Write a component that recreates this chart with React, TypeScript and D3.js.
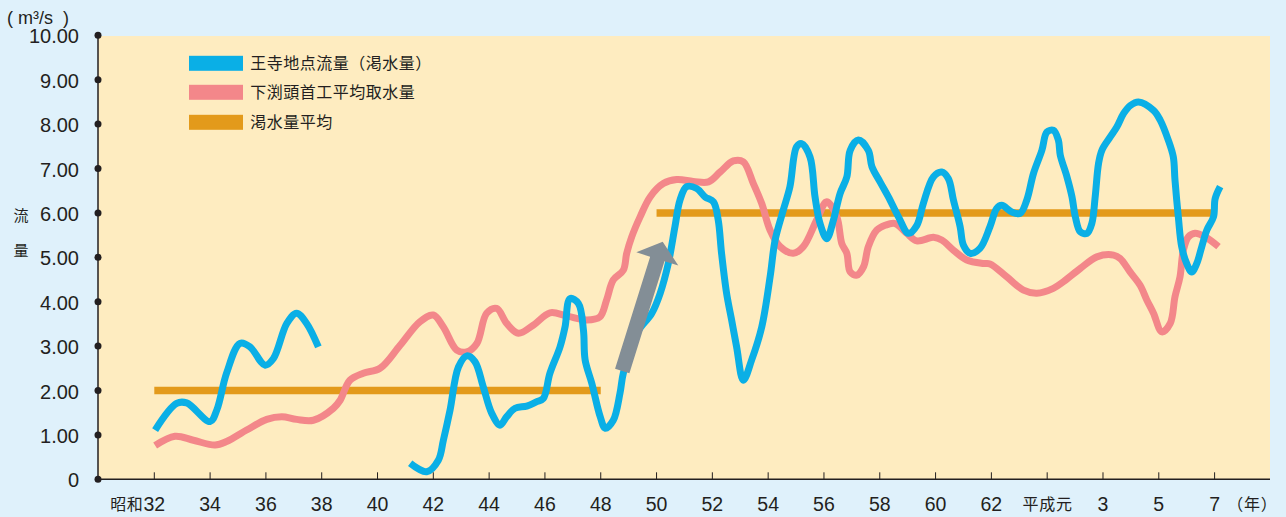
import React from 'react';
import * as d3 from 'd3';

const W = 1286;
const H = 517;

// x positions are Showa years (平成元 = 64)
const xTickYears = [32, 34, 36, 38, 40, 42, 44, 46, 48, 50, 52, 54, 56, 58, 60, 62, 64, 66, 68, 70];
const xTickLabels = ['32', '34', '36', '38', '40', '42', '44', '46', '48', '50', '52', '54', '56', '58', '60', '62', '平成元', '3', '5', '7'];
const yTicks = [0, 1, 2, 3, 4, 5, 6, 7, 8, 9, 10];
const yTickLabels = ['0', '1.00', '2.00', '3.00', '4.00', '5.00', '6.00', '7.00', '8.00', '9.00', '10.00'];

const seriesNames = ['王寺地点流量（渇水量）', '下渕頭首工平均取水量', '渇水量平均'];

// 王寺地点流量（渇水量）, segment 1
const blue1Years = [32.03, 32.8, 33.16, 34.0, 34.24, 34.59, 35.07, 35.43, 35.97, 36.27, 36.75, 37.1, 37.46, 37.88];
const blue1Values = [1.11, 1.71, 1.72, 1.3, 1.56, 2.39, 3.06, 2.98, 2.57, 2.72, 3.51, 3.74, 3.51, 2.98];

// 王寺地点流量（渇水量）, segment 2
const blue2Years = [41.17, 41.76, 42.18, 42.36, 42.6, 42.9, 43.2, 43.49, 43.79, 44.09, 44.39, 44.63, 44.93, 45.35, 45.71, 45.94, 46.18, 46.54, 46.72, 46.9, 47.2, 47.38, 47.44, 47.68, 47.98, 48.16, 48.45, 48.69, 48.81, 49.29, 49.83, 50.13, 50.42, 50.66, 50.84, 51.08, 51.44, 51.74, 52.04, 52.21, 52.33, 52.51, 52.69, 52.87, 53.11, 53.41, 53.77, 54.07, 54.25, 54.54, 54.78, 55.02, 55.2, 55.5, 55.68, 55.86, 56.1, 56.34, 56.58, 56.82, 56.94, 57.23, 57.59, 57.72, 58.01, 58.31, 58.67, 59.03, 59.33, 59.56, 59.92, 60.22, 60.46, 60.64, 60.88, 61.0, 61.24, 61.59, 61.95, 62.19, 62.37, 62.73, 63.03, 63.27, 63.51, 63.81, 63.99, 64.22, 64.4, 64.47, 64.71, 64.89, 65.01, 65.19, 65.43, 65.6, 65.72, 65.84, 65.96, 66.26, 66.5, 66.74, 66.98, 67.27, 67.81, 68.05, 68.34, 68.52, 68.58, 68.7, 68.82, 69.0, 69.18, 69.36, 69.54, 69.72, 69.96, 70.02, 70.2];
const blue2Values = [0.36, 0.17, 0.43, 0.88, 1.56, 2.53, 2.78, 2.65, 2.08, 1.49, 1.22, 1.41, 1.6, 1.65, 1.75, 1.82, 2.39, 2.98, 3.43, 4.07, 3.96, 3.36, 2.69, 2.16, 1.41, 1.15, 1.33, 1.94, 2.39, 3.29, 3.74, 4.19, 4.86, 5.69, 6.29, 6.59, 6.55, 6.36, 6.25, 5.84, 5.09, 4.19, 3.59, 2.98, 2.23, 2.69, 3.43, 4.56, 5.39, 6.06, 6.59, 7.49, 7.56, 7.26, 6.36, 5.76, 5.42, 5.84, 6.44, 6.81, 7.41, 7.64, 7.41, 7.04, 6.7, 6.36, 5.91, 5.54, 5.72, 6.21, 6.81, 6.92, 6.77, 6.29, 5.69, 5.27, 5.09, 5.2, 5.69, 6.1, 6.17, 6.02, 5.99, 6.29, 6.89, 7.41, 7.82, 7.86, 7.64, 7.3, 6.81, 6.36, 5.91, 5.57, 5.54, 5.76, 6.36, 7.11, 7.41, 7.71, 7.94, 8.24, 8.42, 8.5, 8.31, 8.09, 7.64, 7.26, 6.74, 5.91, 5.24, 4.86, 4.67, 4.86, 5.24, 5.61, 5.91, 6.32, 6.59];

// 下渕頭首工平均取水量
const pinkYears = [32.03, 32.74, 33.4, 34.18, 34.59, 35.31, 36.03, 36.57, 37.1, 37.7, 38.42, 38.66, 39.01, 39.49, 40.09, 40.81, 41.52, 42.0, 42.36, 42.84, 43.2, 43.56, 43.91, 44.27, 44.63, 45.05, 45.58, 46.18, 46.78, 47.5, 47.97, 48.21, 48.45, 48.81, 48.93, 49.11, 49.41, 49.77, 50.24, 50.72, 51.32, 51.86, 52.28, 52.75, 53.11, 53.47, 53.77, 54.07, 54.43, 54.9, 55.26, 55.74, 56.1, 56.46, 56.64, 56.82, 56.94, 57.18, 57.42, 57.59, 57.89, 58.19, 58.55, 58.97, 59.33, 59.92, 60.22, 60.64, 61.12, 61.71, 61.95, 62.55, 63.15, 63.63, 64.22, 64.58, 65.19, 65.78, 66.38, 66.62, 66.97, 67.33, 67.57, 67.81, 68.11, 68.41, 68.58, 68.76, 68.88, 69.06, 69.3, 69.66, 70.14];
const pinkValues = [0.76, 0.97, 0.88, 0.77, 0.85, 1.11, 1.35, 1.41, 1.35, 1.33, 1.6, 1.78, 2.23, 2.39, 2.5, 3.02, 3.55, 3.7, 3.43, 2.91, 2.87, 3.06, 3.74, 3.85, 3.51, 3.29, 3.47, 3.75, 3.68, 3.59, 3.66, 4.04, 4.49, 4.71, 5.09, 5.46, 5.91, 6.36, 6.66, 6.75, 6.71, 6.7, 6.92, 7.17, 7.15, 6.66, 6.21, 5.61, 5.24, 5.09, 5.24, 5.84, 6.25, 5.91, 5.31, 5.09, 4.67, 4.6, 4.79, 5.24, 5.61, 5.72, 5.76, 5.54, 5.37, 5.45, 5.39, 5.16, 4.94, 4.86, 4.85, 4.56, 4.26, 4.19, 4.3, 4.45, 4.75, 5.01, 5.05, 4.97, 4.67, 4.37, 4.04, 3.74, 3.32, 3.51, 4.11, 4.56, 5.16, 5.46, 5.54, 5.46, 5.24];

// 渇水量平均 (periods and levels)
const avgStartYears = [32, 50];
const avgEndYears = [48, 70];
const avgLevels = [2.0, 6.0];

// annotation arrow: from [year, value] to [year, value]
const arrowFrom = [48.77, 2.44];
const arrowTo = [50.22, 5.35];

const BLUE = '#0aafe6';
const PINK = '#f3878a';
const ORANGE = '#e39a1b';
const GRAY = '#838e96';
const TEXT = '#231f20';
const NUM_FONT = '"Liberation Sans", Arial, sans-serif';
const CJK_FONT = '"Noto Sans CJK JP", "Noto Sans CJK SC", sans-serif';

// Full-width text: each character on a fixed pitch
function FullWidthText(props: { text: string; x: number; y: number; pitch: number; size: number; anchor?: 'start' | 'middle' }) {
  const chars = Array.from(props.text);
  const total = chars.length * props.pitch;
  const x0 = props.anchor === 'middle' ? props.x - total / 2 : props.x;
  return (
    <g>
      {chars.map((c, i) => (
        <text
          key={i}
          x={x0 + i * props.pitch + props.pitch / 2}
          y={props.y}
          textAnchor="middle"
          fontFamily={CJK_FONT}
          fontSize={props.size}
          fill={TEXT}
        >
          {c}
        </text>
      ))}
    </g>
  );
}

export default function App() {
  const x = d3.scaleLinear().domain([32, 70]).range([154.3, 1214.6]);
  const y = d3.scaleLinear().domain([0, 10]).range([479.3, 35.3]);
  const line = d3
    .line<[number, number]>()
    .x((d) => x(d[0]))
    .y((d) => y(d[1]))
    .curve(d3.curveCatmullRom.alpha(0.5));
  const zip = (a: number[], b: number[]) => a.map((v, i) => [v, b[i]] as [number, number]);

  const plotLeft = 98;
  const plotRight = 1270;
  const plotTop = 36;
  const plotBottom = y(0);

  // arrow polygon
  const p0 = [x(arrowFrom[0]), y(arrowFrom[1])];
  const p1 = [x(arrowTo[0]), y(arrowTo[1])];
  const dx = p1[0] - p0[0];
  const dy = p1[1] - p0[1];
  const L = Math.hypot(dx, dy);
  const ux = dx / L, uy = dy / L;
  const nx = -uy, ny = ux;
  const sw = 7.5, hw = 22, hl = 18;
  const hb = [p1[0] - ux * hl, p1[1] - uy * hl];
  const arrowPts = [
    [p0[0] + nx * sw, p0[1] + ny * sw],
    [hb[0] + nx * sw, hb[1] + ny * sw],
    [hb[0] + nx * hw, hb[1] + ny * hw],
    [p1[0], p1[1]],
    [hb[0] - nx * hw, hb[1] - ny * hw],
    [hb[0] - nx * sw, hb[1] - ny * sw],
    [p0[0] - nx * sw, p0[1] - ny * sw],
  ]
    .map((p) => p.join(','))
    .join(' ');

  const legendColors = [BLUE, PINK, ORANGE];
  const legendY = [63.3, 92.3, 122.3];

  return (
    <svg
      width={W}
      height={H}
      style={{ position: 'absolute', left: 0, top: 0, display: 'block' }}
    >
      <rect x={0} y={0} width={W} height={H} fill="#dff1fb" />
      <rect x={plotLeft} y={plotTop} width={plotRight - plotLeft} height={plotBottom - plotTop} fill="#feecc0" />

      {/* average lines */}
      {avgLevels.map((v, i) => (
        <line
          key={'avg' + i}
          x1={x(avgStartYears[i])}
          x2={x(avgEndYears[i])}
          y1={y(v)}
          y2={y(v)}
          stroke={ORANGE}
          strokeWidth={7.5}
        />
      ))}

      <path d={line(zip(pinkYears, pinkValues)) || ''} fill="none" stroke={PINK} strokeWidth={7} strokeLinejoin="round" />
      <path d={line(zip(blue1Years, blue1Values)) || ''} fill="none" stroke={BLUE} strokeWidth={7} strokeLinejoin="round" />
      <path d={line(zip(blue2Years, blue2Values)) || ''} fill="none" stroke={BLUE} strokeWidth={7} strokeLinejoin="round" />

      <polygon points={arrowPts} fill={GRAY} />

      {/* axes */}
      <line x1={plotLeft} x2={plotLeft} y1={y(10)} y2={plotBottom} stroke={TEXT} strokeWidth={1.5} />
      <line x1={plotLeft} x2={plotRight} y1={plotBottom} y2={plotBottom} stroke={TEXT} strokeWidth={1.5} />
      {yTicks.map((v, i) => (
        <g key={'yt' + i}>
          <circle cx={plotLeft} cy={y(v)} r={3.5} fill={TEXT} />
          <text x={79} y={y(v) + 8} textAnchor="end" fontFamily={NUM_FONT} fontSize={20} fill={TEXT}>
            {yTickLabels[i]}
          </text>
        </g>
      ))}
      {xTickYears.map((yr, i) => (
        <g key={'xt' + i}>
          <line x1={x(yr)} x2={x(yr)} y1={plotBottom} y2={plotBottom - 7} stroke={TEXT} strokeWidth={1} />
          {/[0-9]/.test(xTickLabels[i]) ? (
            <text x={x(yr)} y={511} textAnchor="middle" fontFamily={NUM_FONT} fontSize={19.5} fill={TEXT}>
              {xTickLabels[i]}
            </text>
          ) : (
            <FullWidthText text={xTickLabels[i]} x={x(yr)} y={510} pitch={16.7} size={16} anchor="middle" />
          )}
          {i === 0 && (
            <FullWidthText text="昭和" x={110} y={510} pitch={16.5} size={16} />
          )}
        </g>
      ))}
      <FullWidthText text="（年）" x={1227} y={510} pitch={16.7} size={16} />

      {/* unit label */}
      <text x={7} y={24} fontFamily={NUM_FONT} fontSize={18} fill={TEXT} style={{ whiteSpace: 'pre' }}>
        {'( m³/s  )'}
      </text>

      <text x={21} y={221} textAnchor="middle" fontFamily={CJK_FONT} fontSize={15} fill={TEXT}>
        流
      </text>
      <text x={21} y={256} textAnchor="middle" fontFamily={CJK_FONT} fontSize={15} fill={TEXT}>
        量
      </text>

      {/* legend */}
      {seriesNames.map((name, i) => (
        <g key={'lg' + i}>
          <rect x={189} y={legendY[i] - 7.5} width={54} height={15} fill={legendColors[i]} />
          <FullWidthText text={name} x={250} y={legendY[i] + 6} pitch={16.5} size={16} />
        </g>
      ))}
    </svg>
  );
}
